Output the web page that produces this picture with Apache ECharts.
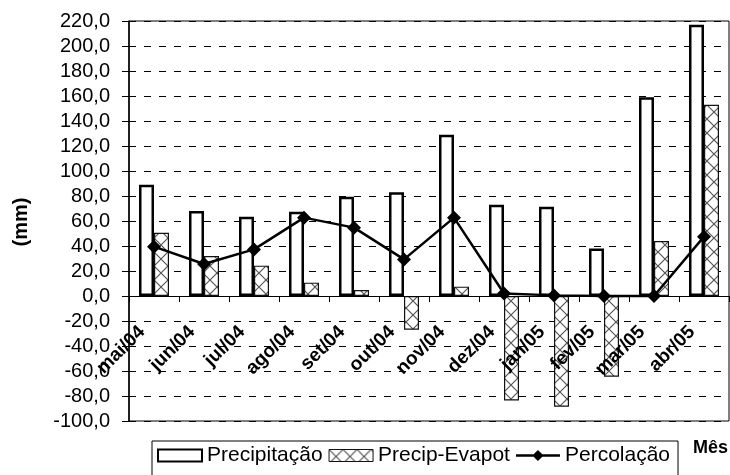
<!DOCTYPE html>
<html>
<head>
<meta charset="utf-8">
<script src="https://cdn.jsdelivr.net/npm/echarts@6/dist/echarts.min.js"></script>
<style>
html,body{margin:0;padding:0;background:#fff;}
#chart{width:730px;height:475px;}
</style>
</head>
<body>
<div id="chart"></div>
<script>
const categories = ['mai/04','jun/04','jul/04','ago/04','set/04','out/04','nov/04','dez/04','jan/05','fev/05','mar/05','abr/05'];
const precipitacao = [89, 68, 63.5, 67.5, 79.5, 83, 129, 73, 71.5, 38, 159, 217];
const precipEvapot = [50.5, 32, 24.3, 10.7, 4.8, -27, 7.5, -83.5, -88.5, -64.5, 44, 153];
const percolacao = [39.5, 25.6, 37.3, 62.7, 54.7, 29.3, 62.7, 2, 0.5, 0, 0, 47.5];
const seriesNames = ['Precipitação', 'Precip-Evapot', 'Percolação'];

const FONT = '"Liberation Sans", Arial, sans-serif';

// cross-hatch pattern
const pc = document.createElement('canvas');
pc.width = 14; pc.height = 14;
const g = pc.getContext('2d');
g.fillStyle = '#fff'; g.fillRect(0, 0, 14, 14);
g.strokeStyle = '#555'; g.lineWidth = 1.2;
g.beginPath();
g.moveTo(0, 0); g.lineTo(14, 14);
g.moveTo(14, 0); g.lineTo(0, 14);
g.stroke();
const hatch = { image: pc, repeat: 'repeat' };

const lineDiamondIcon = 'path://M0,4.75 L19.25,4.75 L24,0 L28.75,4.75 L48,4.75 L48,7.25 L28.75,7.25 L24,12 L19.25,7.25 L0,7.25 Z';

const chart = echarts.init(document.getElementById('chart'), null, { renderer: 'canvas' });
chart.setOption({
  animation: false,
  backgroundColor: '#fff',
  textStyle: { fontFamily: FONT },
  grid: { left: 129, right: 1, top: 21, bottom: 54, containLabel: false, outerBoundsMode: 'none',
          show: true, borderColor: '#000', borderWidth: 1, backgroundColor: 'transparent' },
  legend: {
    left: 152, top: 441,
    padding: [4, 8, 20, 5],
    borderColor: '#000', borderWidth: 1,
    itemWidth: 44, itemHeight: 12, itemGap: 6,
    textStyle: { fontFamily: FONT, fontSize: 21, color: '#000', lineHeight: 20 },
    data: [
      { name: seriesNames[0], icon: 'rect', itemStyle: { color: '#fff', borderColor: '#000', borderWidth: 2 } },
      { name: seriesNames[1], icon: 'rect', itemStyle: { color: hatch, borderColor: '#111', borderWidth: 1 } },
      { name: seriesNames[2], icon: lineDiamondIcon, itemStyle: { color: '#000', borderWidth: 0 } }
    ]
  },
  xAxis: {
    type: 'category',
    data: categories,
    position: 'bottom',
    offset: -125,
    z: 10,
    axisLine: { onZero: false, lineStyle: { color: '#000', width: 1 } },
    axisTick: { show: true, length: 6, lineStyle: { color: '#000' } },
    axisLabel: {
      interval: 0, rotate: 45, fontSize: 19, fontWeight: 'bold', color: '#000',
      fontFamily: FONT, margin: 21, padding: [0, 17, 0, 0]
    },
    splitLine: { show: false }
  },
  yAxis: {
    type: 'value',
    min: -100, max: 220, interval: 20,
    axisLine: { show: true, onZero: false, lineStyle: { color: '#000', width: 1.5 } },
    axisTick: { show: true, inside: false, length: 7, lineStyle: { color: '#000' } },
    axisLabel: {
      fontSize: 20, color: '#000', fontFamily: FONT, margin: 19,
      formatter: v => v.toFixed(1).replace('.', ',')
    },
    splitLine: { show: true, lineStyle: { color: '#000', type: [7, 8], width: 1 } }
  },
  series: [
    {
      name: seriesNames[0], type: 'bar', data: precipitacao,
      barWidth: 15, barGap: '0%',
      itemStyle: { color: '#fff', borderColor: '#000', borderWidth: 2.5 },
      z: 2
    },
    {
      name: seriesNames[1], type: 'bar', data: precipEvapot,
      barWidth: 15, barGap: '0%',
      itemStyle: { color: hatch, borderColor: '#111', borderWidth: 1.2 },
      z: 2
    },
    {
      name: seriesNames[2], type: 'line', data: percolacao,
      symbol: 'diamond', symbolSize: 14,
      lineStyle: { color: '#000', width: 2.5 },
      itemStyle: { color: '#000' },
      z: 5
    }
  ],
  graphic: [
    {
      type: 'text', x: 21, y: 222, rotation: Math.PI / 2,
      style: { text: '(mm)', fontFamily: FONT, fontSize: 20, fontWeight: 'bold', fill: '#000', align: 'center', verticalAlign: 'middle' }
    },
    {
      type: 'text', x: 693, y: 448,
      style: { text: 'Mês', fontFamily: FONT, fontSize: 18, fontWeight: 'bold', fill: '#000', align: 'left', verticalAlign: 'middle' }
    }
  ]
});
</script>
</body>
</html>
